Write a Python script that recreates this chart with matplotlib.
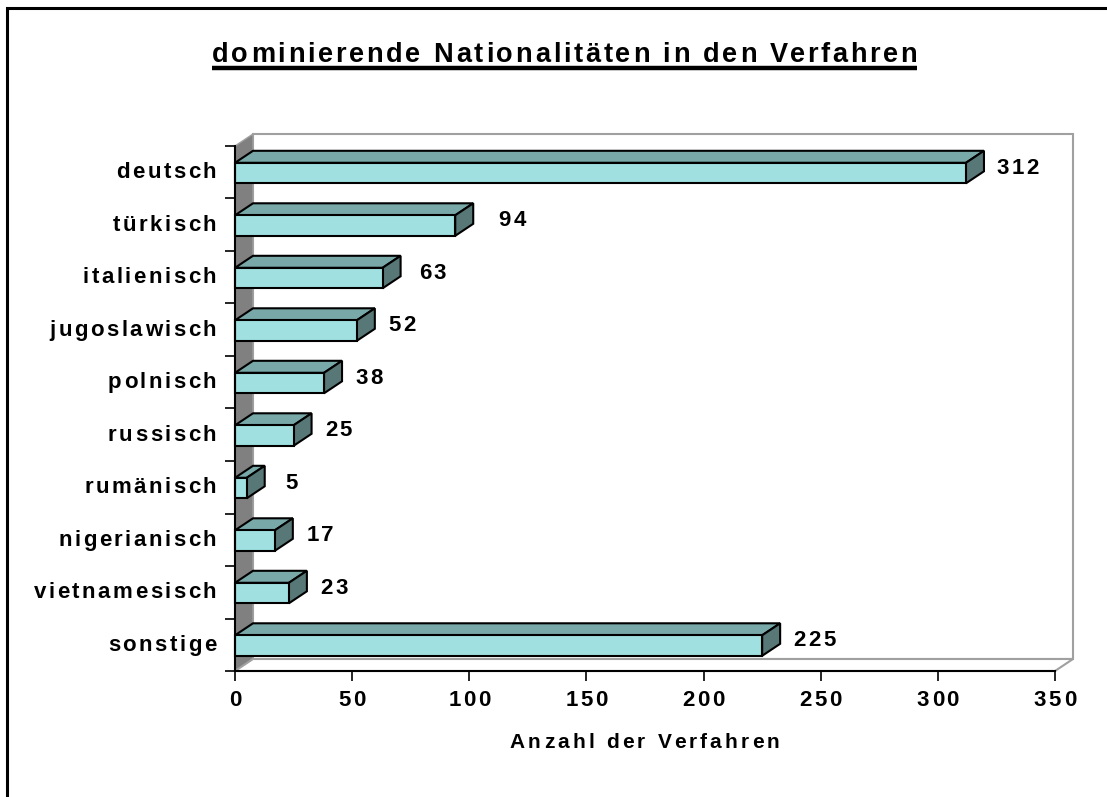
import matplotlib
matplotlib.use("Agg")
from matplotlib import pyplot as plt
from matplotlib.patches import Polygon, Rectangle
from matplotlib.text import Text
from matplotlib.transforms import IdentityTransform, offset_copy

categories = ["deutsch", "türkisch", "italienisch", "jugoslawisch", "polnisch",
              "russisch", "rumänisch", "nigerianisch", "vietnamesisch", "sonstige"]
values = [312, 94, 63, 52, 38, 25, 5, 17, 23, 225]
x_ticks = [0, 50, 100, 150, 200, 250, 300, 350]

W, H = 1107, 797
FRONT = "#a0e0e0"
TOP = "#78a8a8"
SIDE = "#587878"
WALL = "#808080"
EDGE = "#a0a0a0"

plt.rcParams["font.family"] = ["Liberation Sans", "DejaVu Sans"]
plt.rcParams["font.weight"] = "bold"


class SpacedText(Text):
    """Text with extra pixels between letters, matplotlib has no option for it."""

    tracking = 2.5

    def get_window_extent(self, renderer=None, dpi=None):
        bbox = super().get_window_extent(renderer, dpi).frozen()
        extra = self.tracking * (len(self.get_text()) - 1)
        ha = self.get_ha()
        if ha == "center":
            bbox.x0 -= extra / 2
            bbox.x1 += extra / 2
        elif ha == "right":
            bbox.x0 -= extra
        else:
            bbox.x1 += extra
        return bbox

    def draw(self, renderer):
        s = self.get_text()
        if not self.get_visible() or not s:
            return
        fp = self.get_fontproperties()
        width = lambda t: renderer.get_text_width_height_descent(t, fp, False)[0]
        _, y = self.get_transform().transform(self.get_unitless_position())
        x = self.get_window_extent(renderer).x0
        for i, ch in enumerate(s):
            letter = Text(x + width(s[:i]) + self.tracking * i, y, ch,
                          fontproperties=fp, color=self.get_color(),
                          ha="left", va=self.get_va(),
                          transform=IdentityTransform())
            letter.set_figure(self.get_figure())
            letter.draw(renderer)


def spaced(text, tracking=2.5):
    text.__class__ = SpacedText
    text.tracking = tracking
    return text


fig = plt.figure(figsize=(W / 100, H / 100), dpi=100)

# axes sits on the front plane of the fake 3d box
ax = fig.add_axes([235 / W, 1 - 671 / H, 820 / W, 525 / H])
ax.set_xlim(0, 350)
ax.set_ylim(len(categories), 0)
ax.patch.set_visible(False)

# depth of the 3d effect in data units
dx = 18 / 820 * 350
dy = 12 / 52.5
n = len(categories)

ax.add_patch(Polygon([(dx, -dy), (350 + dx, -dy), (350 + dx, n - dy), (dx, n - dy)],
                     closed=True, facecolor="white", edgecolor=EDGE, lw=1.5,
                     clip_on=False, zorder=1))
ax.add_patch(Polygon([(0, 0), (dx, -dy), (dx, n - dy), (0, n)],
                     closed=True, facecolor=WALL, edgecolor=EDGE, lw=1,
                     clip_on=False, zorder=2))
ax.add_patch(Polygon([(0, n), (dx, n - dy), (350 + dx, n - dy), (350, n)],
                     closed=True, facecolor="white", edgecolor=EDGE, lw=1.5,
                     clip_on=False, zorder=2))

bar_h = 20.5 / 52.5
for i, v in enumerate(values):
    y0 = i + 0.32
    y1 = y0 + bar_h
    ax.add_patch(Polygon([(0, y0), (dx, y0 - dy), (v + dx, y0 - dy), (v, y0)],
                         closed=True, facecolor=TOP, edgecolor="black", lw=1.5,
                         clip_on=False, zorder=3))
    ax.add_patch(Polygon([(v, y0), (v + dx, y0 - dy), (v + dx, y1 - dy), (v, y1)],
                         closed=True, facecolor=SIDE, edgecolor="black", lw=1.5,
                         clip_on=False, zorder=3))
    ax.add_patch(Rectangle((0, y0), v, bar_h, facecolor=FRONT, edgecolor="black",
                           lw=1.5, clip_on=False, zorder=4))
    label_dx = 52 if v >= 100 else (57 if v == 94 else (50 if v == 63 else 45))
    spaced(ax.text(v, y0 + bar_h / 2, str(v), ha="center", va="center",
                   transform=offset_copy(ax.transData, fig=fig, x=label_dx * 0.72,
                                         y=3.5, units="points"),
                   fontsize=16, fontweight="bold", zorder=5))

for s in ["top", "right"]:
    ax.spines[s].set_visible(False)
for s in ["left", "bottom"]:
    ax.spines[s].set_linewidth(1.5)
    ax.spines[s].set_zorder(6)

ax.set_xticks(x_ticks)
ax.set_xticklabels([str(t) for t in x_ticks])
ax.set_yticks(range(n + 1))
ax.set_yticklabels([])
ax.tick_params(axis="both", length=7.5, width=1.2, labelsize=16)
ax.tick_params(axis="x", pad=6.5)

for t in ax.get_xticklabels():
    t.set_fontweight("bold")
    spaced(t)

cat_trans = offset_copy(ax.transData, fig=fig, x=-13.5, y=-0.5, units="points")
for i, c in enumerate(categories):
    spaced(ax.text(0, i + 0.5, c, ha="right", va="center", transform=cat_trans,
                   fontsize=16, fontweight="bold"))

spaced(fig.text(644.5 / W, 1 - 743 / H, "Anzahl der Verfahren", ha="center",
                va="center", fontsize=15, fontweight="bold"), 3.2)
spaced(fig.text(564.5 / W, 1 - 55 / H, "dominierende Nationalitäten in den Verfahren",
                ha="center", va="center", fontsize=19.5, fontweight="bold"), 2.8)
fig.add_artist(plt.Line2D([212 / W, 917 / W], [1 - 67.5 / H, 1 - 67.5 / H],
                          color="black", lw=3.2, solid_capstyle="butt"))

# outer chart frame, open at the bottom and on the right
fig.add_artist(plt.Line2D([6.5 / W, 6.5 / W, 1], [0, 1 - 8 / H, 1 - 8 / H],
                          color="black", lw=2.2, solid_joinstyle="miter"))

fig.savefig("out.png", dpi=100)
